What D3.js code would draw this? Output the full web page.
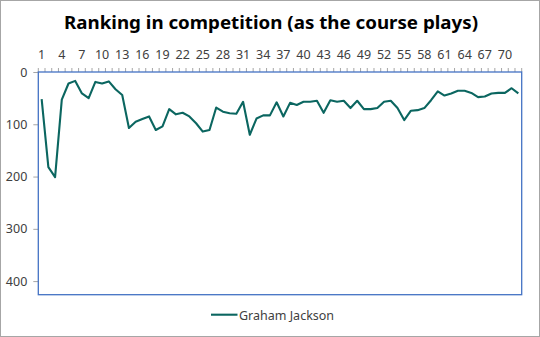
<!DOCTYPE html>
<html><head><meta charset="utf-8">
<script src="https://cdn.jsdelivr.net/npm/d3@7"></script>
<style>body{margin:0;background:#fff}svg{display:block}</style>
</head><body>
<svg id="c" width="540" height="337"></svg>
<script>
const title = "Ranking in competition (as the course plays)";
const seriesName = "Graham Jackson";
const holes = d3.range(1, 73);
const ranks = [52,182,201,53,22,17,41,50,19,22,18,33,44,107,95,90,85,111,104,71,
  81,78,85,98,114,111,68,76,79,80,57,120,89,83,83,58,85,59,63,57,
  57,55,78,54,57,55,69,55,71,71,69,57,55,69,92,74,73,69,54,37,
  45,41,36,36,40,48,47,41,40,40,31,41];
const yTicks = [0,100,200,300,400];
const yMax = 426;

(function(){
const svg = d3.select("#c");
const font = "'Noto Sans', 'Open Sans', sans-serif";
const pL = 38.3, pR = 521.7, pT = 72, pB = 294.7;

svg.append("rect").attr("x",0.5).attr("y",0.5).attr("width",539).attr("height",336)
  .attr("fill","#fff").attr("stroke","#a6a6a6").attr("stroke-width",1);

const t = svg.append("text").attr("x",271).attr("y",28.5).attr("text-anchor","middle")
  .attr("font-family",font).attr("font-weight","bold").attr("font-size",18.5)
  .attr("fill","#000").text(title);
const tw = t.node().getComputedTextLength();
if (tw > 0) t.attr("textLength", 414).attr("lengthAdjust","spacingAndGlyphs");

const x = d3.scaleBand().domain(holes).range([pL,pR]).padding(0);
const y = d3.scaleLinear().domain([0,yMax]).range([pT,pB]);

const yAxis = d3.axisLeft(y).tickValues(yTicks).tickSize(5).tickPadding(6);
const gy = svg.append("g").attr("transform",`translate(${pL},0)`).call(yAxis);
gy.select(".domain").remove();
gy.selectAll("line").attr("stroke","#a6a6a6");
gy.selectAll("text").attr("font-family",font).attr("font-size",12.5).attr("fill","#404040");

const xAxis = d3.axisTop(x).tickValues(holes).tickSize(4).tickFormat(d => (d-1)%3===0 ? d : "").tickPadding(9);
const gx = svg.append("g").attr("transform",`translate(0,${pT})`).call(xAxis);
gx.select(".domain").remove();
gx.selectAll(".tick line").attr("stroke","#a6a6a6")
  .attr("transform", `translate(${-x.bandwidth()/2},0)`);
gx.selectAll("text").attr("font-family",font).attr("font-size",12.5).attr("fill","#404040");
gx.append("line").attr("x1",pR).attr("x2",pR).attr("y1",0).attr("y2",-4).attr("stroke","#a6a6a6");

svg.append("rect").attr("x",pL).attr("y",pT).attr("width",pR-pL).attr("height",pB-pT)
  .attr("fill","none").attr("stroke","#4472c4").attr("stroke-width",1.3);

const line = d3.line().x((d,i)=>x(holes[i])+x.bandwidth()/2).y(d=>y(d));
svg.append("path").datum(ranks).attr("d",line).attr("fill","none")
  .attr("stroke","#0b6660").attr("stroke-width",2.1).attr("stroke-linejoin","round");

svg.append("line").attr("x1",211).attr("x2",237.5).attr("y1",314.7).attr("y2",314.7)
  .attr("stroke","#0b6660").attr("stroke-width",2.1);
svg.append("text").attr("x",239).attr("y",319.5).attr("font-family",font).attr("font-size",12.5)
  .attr("fill","#404040").text(seriesName);
})();
</script>
</body></html>
